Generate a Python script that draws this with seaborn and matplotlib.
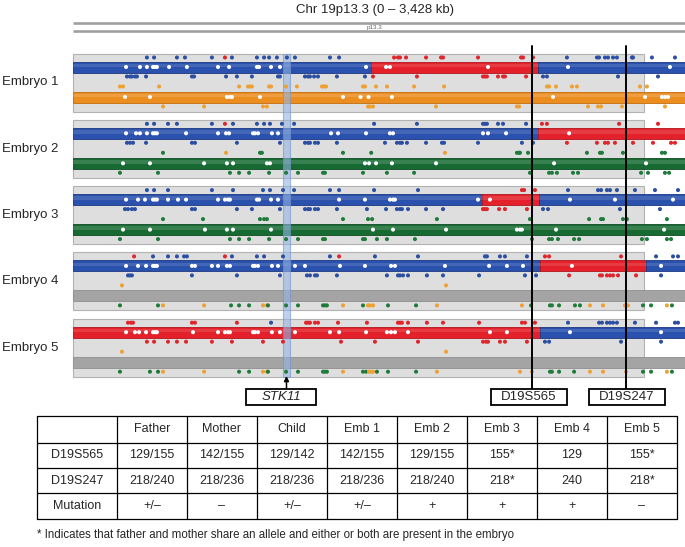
import matplotlib
matplotlib.use("Agg")
import matplotlib.pyplot as plt
from matplotlib.patches import Rectangle
import pandas as pd
import seaborn as sns

# ---------------- data ----------------
TITLE = "Chr 19p13.3 (0 – 3,428 kb)"
BAND = "p13.3"
EMBRYOS = ["Embryo 1", "Embryo 2", "Embryo 3", "Embryo 4", "Embryo 5"]
CHR_LEN_KB = 3428
PANEL_END_KB = 3198
STK11_KB = (1176, 1215)
GENE = "STK11"
MARKERS = ["D19S565", "D19S247"]
MARKER_KB = [2568, 3097]

# paternal haplotype segments (start kb, end kb, colour)
HAP_PAT = [
    [(0, 1669, "blue"), (1669, 2604, "red"), (2604, 3428, "blue")],
    [(0, 2604, "blue"), (2604, 3428, "red")],
    [(0, 2290, "blue"), (2290, 2610, "red"), (2610, 3428, "blue")],
    [(0, 2615, "blue"), (2615, 3209, "red"), (3209, 3428, "blue")],
    [(0, 2615, "red"), (2615, 3428, "blue")],
]
# maternal haplotype colour (full length)
HAP_MAT = ["orange", "green", "green", "gray", "gray"]

# SNP dots, per embryo, rows: above pat bar / in pat bar / below pat bar /
# above mat bar / in mat bar / below mat bar   (kb, colour code)
E1_R1 = [(414,'b'),(454,'b'),(582,'b'),(627,'b'),(778,'b'),(851,'r'),(890,'b'),(1030,'b'),(1070,'b'),(1098,'b'),(1142,'b'),(1198,'b'),(1243,'b'),(1439,'b'),(1490,'b'),(1798,'r'),(1820,'r'),(1831,'r'),(1865,'r'),(1977,'r'),(2061,'r'),(2072,'r'),(2268,'r'),(2509,'r'),(2520,'r'),(2576,'r'),(2766,'b'),(2934,'b'),(2946,'b'),(2979,'b'),(2996,'b'),(3024,'b'),(3046,'b'),(3130,'b'),(3136,'b'),(3242,'b'),(3371,'b')]
E1_R2 = [297,375,414,448,459,470,538,638,812,874,1030,1042,1109,1159,1641,1753,1775,2324,2772,3343]
E1_R3 = [(302,'b'),(319,'b'),(330,'b'),(347,'b'),(358,'b'),(409,'b'),(666,'b'),(678,'b'),(857,'b'),(918,'b'),(1002,'b'),(1148,'b'),(1159,'b'),(1299,'b'),(1316,'b'),(1327,'b'),(1350,'b'),(1372,'b'),(1478,'b'),(1635,'b'),(1680,'r'),(1926,'r'),(2296,'r'),(2307,'r'),(2318,'r'),(2380,'r'),(2408,'r'),(2419,'r'),(2537,'r'),(2632,'b'),(2654,'b'),(3052,'b'),(3276,'b')]
E1_R4 = [(263,'o'),(280,'o'),(482,'o'),(930,'o'),(980,'o'),(991,'o'),(1002,'o'),(1098,'o'),(1109,'o'),(1193,'o'),(1254,'o'),(1394,'o'),(1406,'o'),(1417,'o'),(1624,'o'),(1635,'o'),(1697,'o'),(1758,'o'),(1910,'o'),(2078,'o'),(2654,'o'),(2666,'o'),(2705,'o'),(2794,'o'),(2822,'o'),(3175,'o'),(3214,'o')]
E1_R5 = [291,431,862,879,890,1047,1512,1610,1655,1786,2688,3203,3298,3315,3332]
E1_R6 = [(504,'o'),(734,'o'),(1064,'o'),(1086,'o'),(1652,'o'),(1663,'o'),(1680,'o'),(2033,'o'),(2486,'o'),(2498,'o'),(2884,'o'),(2940,'o'),(2957,'o'),(3074,'o'),(3315,'o')]

E2_R1 = [(414,'b'),(454,'b'),(532,'b'),(582,'b'),(778,'b'),(851,'r'),(896,'b'),(1030,'b'),(1070,'b'),(1103,'b'),(1170,'b'),(1238,'b'),(1686,'b'),(1926,'b'),(2296,'b'),(2307,'b'),(2318,'b'),(2380,'b'),(2408,'b'),(2537,'b'),(2626,'r'),(2654,'r'),(3058,'r'),(3276,'r')]
E2_R2 = [297,353,375,414,448,459,470,633,812,857,874,1008,1019,1036,1114,1148,1445,1484,1641,1775,1792,2296,2324,2425,2778]
E2_R3 = [(302,'b'),(319,'b'),(336,'b'),(409,'b'),(666,'b'),(683,'b'),(918,'b'),(1159,'b'),(1299,'b'),(1316,'b'),(1327,'b'),(1355,'b'),(1372,'b'),(1478,'b'),(1747,'b'),(1814,'b'),(1831,'b'),(1842,'b'),(1870,'b'),(1977,'b'),(2066,'b'),(2078,'b'),(2268,'b'),(2514,'b'),(2576,'b'),(2766,'r'),(2934,'r'),(2979,'r'),(2996,'r'),(3035,'r'),(3136,'r'),(3248,'r'),(3349,'r'),(3371,'r')]
E2_R4 = [(504,'g'),(857,'o'),(1047,'g'),(1058,'g'),(1512,'g'),(1670,'g'),(2083,'o'),(2486,'g'),(2498,'g'),(2503,'g'),(2548,'g'),(2878,'g'),(2951,'g'),(2962,'g'),(3080,'g'),(3298,'g'),(3315,'g')]
E2_R5 = [280,431,734,862,896,1086,1103,1635,1658,1697,1786,2033,2694,3209]
E2_R6 = [(263,'g'),(476,'g'),(879,'g'),(930,'g'),(986,'g'),(1098,'g'),(1193,'g'),(1260,'g'),(1400,'g'),(1411,'g'),(1624,'g'),(1758,'g'),(1910,'g'),(2559,'g'),(2666,'g'),(2682,'g'),(2710,'g'),(2800,'g'),(2828,'g'),(3181,'g'),(3220,'g'),(3315,'g'),(3338,'g')]

E3_R1 = [(414,'b'),(454,'b'),(532,'b'),(778,'b'),(896,'b'),(1064,'b'),(1103,'b'),(1176,'b'),(1238,'b'),(1439,'b'),(1490,'b'),(1686,'b'),(1932,'b'),(2514,'r'),(2526,'r'),(2587,'r'),(2772,'b'),(2940,'b'),(2957,'b'),(2990,'b'),(3007,'b'),(3046,'b'),(3147,'b'),(3259,'b'),(3388,'b')]
E3_R2 = [297,364,403,448,459,470,532,588,633,812,851,868,879,1030,1042,1109,1148,1490,1635,1775,1792,1803,2268,2335,2783,3035,3360]
E3_R3 = [(291,'b'),(308,'b'),(330,'b'),(347,'b'),(666,'b'),(683,'b'),(918,'b'),(1002,'b'),(1159,'b'),(1299,'b'),(1316,'b'),(1327,'b'),(1355,'b'),(1372,'b'),(1478,'b'),(1646,'b'),(1753,'b'),(1814,'b'),(1831,'b'),(1842,'b'),(1876,'b'),(1977,'b'),(2072,'b'),(2296,'r'),(2307,'r'),(2318,'r'),(2386,'r'),(2419,'r'),(2542,'r'),(2632,'b'),(2660,'b'),(3063,'b'),(3287,'b')]
E3_R4 = [(504,'g'),(728,'g'),(1047,'g'),(1070,'g'),(1086,'g'),(1512,'g'),(1652,'g'),(1675,'g'),(2038,'g'),(2559,'g'),(2890,'g'),(2957,'g'),(2968,'g'),(3080,'g'),(3102,'g'),(3326,'g')]
E3_R5 = [280,431,739,862,896,1109,1680,1792,2089,2486,2503,2514,2705,3310]
E3_R6 = [(263,'g'),(476,'g'),(879,'g'),(930,'g'),(986,'g'),(1098,'g'),(1193,'g'),(1260,'g'),(1400,'g'),(1411,'g'),(1624,'g'),(1635,'g'),(1702,'g'),(1758,'g'),(1915,'g'),(2570,'g'),(2666,'g'),(2682,'g'),(2716,'g'),(2806,'g'),(2834,'g'),(3186,'g'),(3214,'g'),(3326,'g'),(3349,'g')]

E4_R1 = [(342,'r'),(448,'b'),(532,'b'),(582,'b'),(622,'b'),(638,'b'),(851,'r'),(890,'b'),(1030,'b'),(1070,'b'),(1176,'b'),(1439,'b'),(1490,'r'),(1691,'b'),(1932,'b'),(2307,'b'),(2318,'b'),(2391,'b'),(2419,'b'),(2542,'b'),(2643,'r'),(2666,'r'),(3069,'r'),(3265,'b'),(3360,'b'),(3388,'b')]
E4_R2 = [297,364,409,448,459,470,666,683,778,812,862,879,1008,1019,1036,1114,1148,1243,1299,1495,1635,1781,1803,2083,2330,2430,2520,2794,3293]
E4_R3 = [(308,'b'),(319,'b'),(330,'b'),(666,'b'),(918,'b'),(1159,'b'),(1310,'b'),(1327,'b'),(1355,'b'),(1366,'b'),(1478,'b'),(1758,'b'),(1820,'b'),(1831,'b'),(1848,'b'),(1876,'b'),(1982,'b'),(2072,'b'),(2274,'b'),(2531,'b'),(2593,'b'),(2778,'r'),(2951,'r'),(2962,'r'),(2990,'r'),(3007,'r'),(3024,'r'),(3052,'r'),(3153,'r'),(3293,'b')]
E4_R4 = [(274,'o'),(2089,'o')]
E4_R5 = []
E4_R6 = [(263,'g'),(476,'g'),(504,'o'),(734,'o'),(885,'g'),(930,'g'),(986,'g'),(1064,'o'),(1086,'o'),(1092,'g'),(1193,'g'),(1260,'g'),(1400,'g'),(1411,'g'),(1422,'g'),(1512,'o'),(1624,'g'),(1652,'o'),(1663,'o'),(1680,'o'),(1764,'g'),(1921,'g'),(2038,'o'),(2514,'o'),(2565,'g'),(2671,'g'),(2682,'g'),(2722,'g'),(2811,'g'),(2839,'g'),(2895,'o'),(2968,'o'),(3091,'o'),(3108,'o'),(3192,'g'),(3237,'g'),(3326,'o'),(3354,'g')]

E5_R1 = [(308,'r'),(325,'r'),(336,'r'),(666,'r'),(683,'r'),(918,'r'),(1109,'b'),(1305,'r'),(1316,'r'),(1327,'r'),(1355,'r'),(1372,'r'),(1484,'r'),(1646,'r'),(1820,'r'),(1831,'r'),(1842,'r'),(1876,'r'),(1982,'r'),(2072,'r'),(2274,'r'),(2514,'r'),(2531,'r'),(2587,'r'),(2772,'b'),(2946,'b'),(2962,'b'),(2990,'b'),(3007,'b'),(3024,'b'),(3046,'b'),(3147,'b'),(3265,'b'),(3371,'b'),(3388,'b')]
E5_R2 = [297,347,370,409,448,459,470,672,812,851,868,879,1008,1019,1036,1114,1159,1243,1439,1490,1641,1758,1781,1803,1876,2335,2430,2783,3293]
E5_R3 = [(414,'r'),(454,'r'),(532,'r'),(582,'r'),(633,'r'),(778,'r'),(890,'r'),(1064,'r'),(1176,'r'),(1501,'r'),(1691,'r'),(1932,'r'),(2296,'r'),(2313,'r'),(2324,'r'),(2391,'r'),(2419,'r'),(2542,'r'),(2643,'b'),(2666,'b'),(3069,'b'),(3293,'b')]
E5_R4 = [(274,'o'),(2089,'o')]
E5_R5 = []
E5_R6 = [(263,'g'),(431,'g'),(476,'g'),(504,'o'),(734,'o'),(930,'g'),(986,'g'),(1064,'o'),(1086,'o'),(1092,'g'),(1193,'g'),(1260,'g'),(1400,'g'),(1411,'g'),(1422,'g'),(1512,'o'),(1624,'g'),(1641,'g'),(1658,'o'),(1669,'o'),(1680,'o'),(1702,'g'),(1764,'g'),(1921,'g'),(2038,'o'),(2503,'o'),(2570,'o'),(2671,'g'),(2682,'g'),(2722,'g'),(2806,'g'),(2895,'o'),(2968,'o'),(3097,'o'),(3192,'g'),(3237,'g'),(3326,'o'),(3354,'g')]

DOT_ROWS = [
    [E1_R1, E1_R2, E1_R3, E1_R4, E1_R5, E1_R6],
    [E2_R1, E2_R2, E2_R3, E2_R4, E2_R5, E2_R6],
    [E3_R1, E3_R2, E3_R3, E3_R4, E3_R5, E3_R6],
    [E4_R1, E4_R2, E4_R3, E4_R4, E4_R5, E4_R6],
    [E5_R1, E5_R2, E5_R3, E5_R4, E5_R5, E5_R6],
]

# table
TABLE_HEADER = ["", "Father", "Mother", "Child", "Emb 1", "Emb 2", "Emb 3", "Emb 4", "Emb 5"]
ROW_LABELS = ["D19S565", "D19S247", "Mutation"]
ROW_D19S565 = ["129/155", "142/155", "129/142", "142/155", "129/155", "155*", "129", "155*"]
ROW_D19S247 = ["218/240", "218/236", "218/236", "218/236", "218/240", "218*", "240", "218*"]
ROW_MUTATION = ["+/\u2013", "\u2013", "+/\u2013", "+/\u2013", "+", "+", "+", "\u2013"]
FOOTNOTE = "* Indicates that father and mother share an allele and either or both are present in the embryo"

# ---------------- style ----------------
sns.set_theme(style="white")
plt.rcParams["font.family"] = ["Liberation Sans", "DejaVu Sans"]

BAR_COL = {"blue": "#2B51AE", "red": "#E4212B", "orange": "#EC8E1F",
           "green": "#166A32", "gray": "#A4A4A4"}
BAR_EDGE = {"blue": "#1C3880", "red": "#B0161D", "orange": "#C26E10",
            "green": "#0E4C22", "gray": "#8E8E8E"}
DOT_PAL = {"b": "#2B4FA3", "r": "#E0252B", "o": "#EFA032",
           "g": "#1E7B3A", "w": "#FFFFFF"}

W, H = 685, 547
KBPX = 5.6
X0 = 73
fig = plt.figure(figsize=(W / 100, H / 100), dpi=100)

# track axes: x in kb, y in pixel rows
ax = fig.add_axes([0, 0, 1, 1])
ax.set_xlim(-X0 * KBPX, (W - X0) * KBPX)
ax.set_ylim(H, 0)
ax.axis("off")

# overlay axes in pixel units for labels / table
ax2 = fig.add_axes([0, 0, 1, 1])
ax2.set_xlim(0, W)
ax2.set_ylim(H, 0)
ax2.axis("off")
ax2.patch.set_alpha(0)

T0, DT, PH = 53.5, 66.3, 58
ROW_OFF = [4, 13.5, 23, 33, 43.5, 53]
BAR_H = 11

# ideogram
for yy in (22.5, 30.5):
    ax.plot([0, CHR_LEN_KB], [yy, yy], color="#A0A0A0", lw=1.9, solid_capstyle="butt")
ax.text(1691, 27, BAND, fontsize=4.5, color="#666666", ha="center", va="center")
ax.text(1691, 9.5, TITLE, fontsize=9.5, ha="center", va="center")

recs = []
for i, name in enumerate(EMBRYOS):
    T = T0 + DT * i
    ax.add_patch(Rectangle((0, T), PANEL_END_KB, PH, facecolor="#DEDEDE",
                           edgecolor="#B2B2B2", lw=0.8, zorder=1))
    # paternal bar
    for s, e, c in HAP_PAT[i]:
        ax.barh(T + ROW_OFF[1], e - s, left=s, height=BAR_H, color=BAR_COL[c],
                edgecolor=BAR_EDGE[c], linewidth=0.6, zorder=2)
        ax.barh(T + ROW_OFF[1] - 1.5, e - s, left=s, height=3.5, color="white",
                alpha=0.12, linewidth=0, zorder=2.5)
    c = HAP_MAT[i]
    ax.barh(T + ROW_OFF[4], CHR_LEN_KB, left=0, height=BAR_H, color=BAR_COL[c],
            edgecolor=BAR_EDGE[c], linewidth=0.6, zorder=2)
    if c != "gray":
        ax.barh(T + ROW_OFF[4] - 1.5, CHR_LEN_KB, left=0, height=3.5, color="white",
                alpha=0.15, linewidth=0, zorder=2.5)
    ax2.text(2, T + 29, name, fontsize=9.5, ha="left", va="center")
    for r, row in enumerate(DOT_ROWS[i]):
        for item in row:
            if isinstance(item, tuple):
                pos, col = item
            else:
                pos, col = item, "w"
            recs.append({"pos": pos, "y": T + ROW_OFF[r], "c": col})

dots = pd.DataFrame(recs)

# STK11 band
top = T0
bot = T0 + DT * 4 + PH
ax.add_patch(Rectangle((STK11_KB[0], top), STK11_KB[1] - STK11_KB[0], bot - top,
                       facecolor="#94B4E2", edgecolor="#6F94D0", lw=0.8, alpha=0.6, zorder=3))

sns.scatterplot(data=dots, x="pos", y="y", hue="c", palette=DOT_PAL, s=8.5,
                linewidth=0, legend=False, ax=ax, zorder=6)
ax.set_xlim(-X0 * KBPX, (W - X0) * KBPX)
ax.set_ylim(H, 0)
ax.axis("off")

# marker lines and boxes
for m, kb in zip(MARKERS, MARKER_KB):
    ax.plot([kb, kb], [46, 389], color="black", lw=1.4, zorder=8)
    xp = X0 + kb / KBPX
    bw = 76
    bx = xp - 41 if m == MARKERS[0] else xp - 37
    ax2.add_patch(Rectangle((bx, 389), bw, 16, facecolor="white", edgecolor="black",
                            lw=1.3, zorder=9))
    ax2.text(bx + bw / 2, 397.5, m, fontsize=9.5, ha="center", va="center", zorder=10)

# STK11 box + arrow
gx = X0 + (STK11_KB[0] + STK11_KB[1]) / 2 / KBPX
ax2.add_patch(Rectangle((gx - 40, 389), 70, 16, facecolor="white", edgecolor="black",
                        lw=1.3, zorder=9))
ax2.text(gx - 5, 397.5, GENE, fontsize=9.5, style="italic", ha="center", va="center", zorder=10)
ax2.annotate("", xy=(gx, 376), xytext=(gx, 389),
             arrowprops=dict(arrowstyle="-|>", color="black", lw=1.1,
                             mutation_scale=7, shrinkA=0, shrinkB=0))

# table
COL_X = [37, 117, 187, 257, 327, 397, 467, 537, 607, 677]
ROW_Y = [416, 443, 468, 493, 519]
for yy in ROW_Y:
    ax2.plot([COL_X[0], COL_X[-1]], [yy, yy], color="black", lw=0.9)
for xx in COL_X:
    ax2.plot([xx, xx], [ROW_Y[0], ROW_Y[-1]], color="black", lw=0.9)
rows = [TABLE_HEADER,
        [ROW_LABELS[0]] + ROW_D19S565,
        [ROW_LABELS[1]] + ROW_D19S247,
        [ROW_LABELS[2]] + ROW_MUTATION]
for r, vals in enumerate(rows):
    yc = (ROW_Y[r] + ROW_Y[r + 1]) / 2
    for j, v in enumerate(vals):
        xc = (COL_X[j] + COL_X[j + 1]) / 2
        ax2.text(xc, yc, v, fontsize=9, ha="center", va="center")
ax2.text(37, 535, FOOTNOTE, fontsize=8.3, ha="left", va="center")

fig.savefig("out.png", dpi=100)
